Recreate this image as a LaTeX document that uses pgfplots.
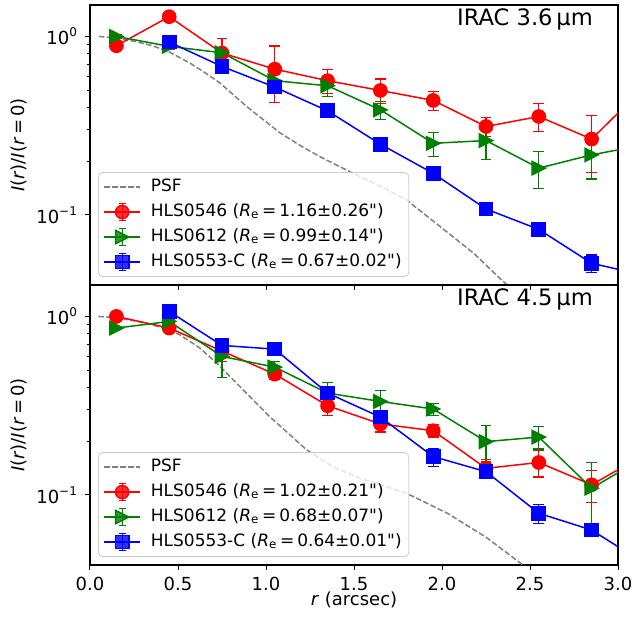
\documentclass[border=0pt]{standalone}
\usepackage{fontspec}
\setmainfont{DejaVu Sans}[Ligatures=TeXOff]
\usepackage{pgfplots}
\pgfplotsset{compat=1.18}
\usetikzlibrary{calc}
\definecolor{mred}{HTML}{FF0000}
\definecolor{mgreen}{HTML}{008000}
\definecolor{mblue}{HTML}{0000FF}
\definecolor{mgray}{HTML}{808080}
\pgfdeclareplotmark{rtri}{%
  \pgfpathmoveto{\pgfqpoint{\pgfplotmarksize}{0pt}}%
  \pgfpathlineto{\pgfqpoint{-\pgfplotmarksize}{\pgfplotmarksize}}%
  \pgfpathlineto{\pgfqpoint{-\pgfplotmarksize}{-\pgfplotmarksize}}%
  \pgfpathclose\pgfusepathqfillstroke}
\pgfplotsset{
  psf/.style={mgray, dashed, dash pattern=on 2.8pt off 1.2pt, line width=0.75pt, no marks},
  eb/.style={line width=0.75pt,
    error bars/y dir=both, error bars/y explicit,
    error bars/error bar style={line width=0.6pt},
    error bars/error mark options={line width=0.6pt, mark size=2.7pt, rotate=90}},
  sred/.style={eb, mred, mark=*, mark size=3.3pt, mark options={solid, fill=mred}},
  sgreen/.style={eb, mgreen, mark=rtri, mark size=3.3pt, mark options={solid, fill=mgreen}},
  sblue/.style={eb, mblue, mark=square*, mark size=3.3pt, mark options={solid, fill=mblue}},
  psfleg/.style={legend image code/.code={\draw[##1] (0pt,0pt) -- (18pt,0pt);}},
  ebleg/.style={legend image code/.code={%
      \draw[##1,mark=none,line width=0.6pt] (9pt,-4.2pt) -- (9pt,4.2pt) (7.3pt,-4.2pt) -- (10.7pt,-4.2pt) (7.3pt,4.2pt) -- (10.7pt,4.2pt);
      \draw[mark repeat=2,mark phase=2,##1] plot coordinates {(0pt,0pt) (9pt,0pt) (18pt,0pt)};}},
}
\begin{document}
\begin{tikzpicture}
\begin{axis}[name=top,
    width=264pt, height=140pt, scale only axis,
    xmin=0, xmax=3, ymode=log, ymin=0.0405, ymax=1.5,
    xtick={0,0.5,1,1.5,2,2.5,3}, xticklabels={},
    ytick={0.1,1}, yticklabels={10\textsuperscript{−1},10\textsuperscript{0}},
    tick align=outside, xtick pos=left, ytick pos=left,
    major tick length=2.5pt, minor tick length=1.5pt,
    tick style={black, line width=0.5pt},
    axis line style={line width=0.6pt},
    tick label style={font=\fontsize{9}{10}\selectfont},
    ylabel={\textit{I}(\textit{r})/\textit{I}(\textit{r}\,=\,0)},
    ylabel style={font=\fontsize{9}{10}\selectfont, at={(axis description cs:-0.135,0.5)}, anchor=center},
    legend style={at={(axis description cs:0.0152,0.0286)}, anchor=south west,
      draw=black!20, rounded corners=2pt, fill=white, fill opacity=0.8, text opacity=1,
      font=\fontsize{8.5}{10}\selectfont,
      nodes={text height=6.5pt, text depth=2pt, inner sep=1pt}, row sep=2pt,
      /tikz/every odd column/.append style={column sep=4pt},
      inner xsep=2.5pt, inner ysep=2pt},
    legend cell align=left]
\addplot[psf, psfleg] coordinates {(0.05,1.0) (0.15,0.98) (0.256,0.937) (0.35,0.89) (0.445,0.824) (0.568,0.709) (0.65,0.63) (0.739,0.548) (0.89,0.405) (1.08,0.288) (1.2,0.243) (1.307,0.212) (1.42,0.186) (1.534,0.164) (1.65,0.145) (1.8,0.121) (1.99,0.086) (2.18,0.061) (2.33,0.044) (2.5,0.031)};
\addlegendentry{PSF}
\addplot[sred, ebleg] coordinates {
 (0.15,0.887) +- (0,0.02)
 (0.45,1.29) +- (0,0.03)
 (0.75,0.807) +- (0,0.17)
 (1.05,0.656) +- (0,0.228)
 (1.35,0.565) +- (0,0.085)
 (1.65,0.498) +- (0,0.079)
 (1.95,0.438) +- (0,0.054)
 (2.25,0.313) +- (0,0.038)
 (2.55,0.356) +- (0,0.063)
 (2.85,0.266) +- (0,0.093)
 (3.15,0.52) +- (0,0.1)};
\addlegendentry{HLS0546 (\textit{R}\textsubscript{e}\,=\,1.16±0.26")}
\addplot[sgreen, ebleg] coordinates {
 (0.15,1.0) +- (0,0.02)
 (0.45,0.88) +- (0,0.03)
 (0.75,0.81) +- (0,0.05)
 (1.05,0.565) +- (0,0.05)
 (1.35,0.529) +- (0,0.07)
 (1.65,0.388) +- (0,0.044)
 (1.95,0.252) +- (0,0.039)
 (2.25,0.261) +- (0,0.057)
 (2.55,0.183) +- (0,0.043)
 (2.85,0.217) +- (0,0.058)
 (3.15,0.247) +- (0,0.05)};
\addlegendentry{HLS0612 (\textit{R}\textsubscript{e}\,=\,0.99±0.14")}
\addplot[sblue, ebleg] coordinates {
 (0.45,0.93) +- (0,0.01)
 (0.75,0.679) +- (0,0.01)
 (1.05,0.52) +- (0,0.01)
 (1.35,0.383) +- (0,0.008)
 (1.65,0.249) +- (0,0.007)
 (1.95,0.171) +- (0,0.006)
 (2.25,0.108) +- (0,0.008)
 (2.55,0.083) +- (0,0.007)
 (2.85,0.0536) +- (0,0.006)
 (3.15,0.0459) +- (0,0.005)};
\addlegendentry{HLS0553-C (\textit{R}\textsubscript{e}\,=\,0.67±0.02")}
\node[anchor=north east, inner sep=0pt, font=\fontsize{11.3}{12}\selectfont] at (rel axis cs:0.953,0.9875) {IRAC 3.6\,μm};
\end{axis}
\begin{axis}[name=bot, at={(top.south west)}, anchor=north west,
    width=264pt, height=140pt, scale only axis,
    xmin=0, xmax=3, ymode=log, ymin=0.0405, ymax=1.5,
    xtick={0,0.5,1,1.5,2,2.5,3}, xticklabels={0.0,0.5,1.0,1.5,2.0,2.5,3.0},
    ytick={0.1,1}, yticklabels={10\textsuperscript{−1},10\textsuperscript{0}},
    tick align=outside, xtick pos=left, ytick pos=left,
    major tick length=2.5pt, minor tick length=1.5pt,
    tick style={black, line width=0.5pt},
    axis line style={line width=0.6pt},
    tick label style={font=\fontsize{9}{10}\selectfont},
    ylabel={\textit{I}(\textit{r})/\textit{I}(\textit{r}\,=\,0)},
    ylabel style={font=\fontsize{9}{10}\selectfont, at={(axis description cs:-0.135,0.5)}, anchor=center},
    xlabel={\textit{r} (arcsec)},
    xlabel style={font=\fontsize{9}{10}\selectfont, at={(axis description cs:0.5,-0.124)}, anchor=center},
    legend style={at={(axis description cs:0.0152,0.0286)}, anchor=south west,
      draw=black!20, rounded corners=2pt, fill=white, fill opacity=0.8, text opacity=1,
      font=\fontsize{8.5}{10}\selectfont,
      nodes={text height=6.5pt, text depth=2pt, inner sep=1pt}, row sep=2pt,
      /tikz/every odd column/.append style={column sep=4pt},
      inner xsep=2.5pt, inner ysep=2pt},
    legend cell align=left]
\addplot[psf, psfleg] coordinates {(0.047,1.0) (0.15,0.985) (0.32,0.918) (0.42,0.86) (0.51,0.79) (0.62,0.67) (0.72,0.548) (0.87,0.388) (1.02,0.275) (1.13,0.22) (1.23,0.179) (1.38,0.144) (1.534,0.124) (1.65,0.114) (1.8,0.102) (2.03,0.079) (2.25,0.058) (2.46,0.0405) (2.6,0.032)};
\addlegendentry{PSF}
\addplot[sred, ebleg] coordinates {
 (0.15,1.0) +- (0,0.02)
 (0.45,0.861) +- (0,0.03)
 (0.75,0.64) +- (0,0.08)
 (1.05,0.475) +- (0,0.03)
 (1.35,0.316) +- (0,0.037)
 (1.65,0.25) +- (0,0.025)
 (1.95,0.229) +- (0,0.018)
 (2.25,0.141) +- (0,0.017)
 (2.55,0.152) +- (0,0.026)
 (2.85,0.114) +- (0,0.023)
 (3.15,0.168) +- (0,0.03)};
\addlegendentry{HLS0546 (\textit{R}\textsubscript{e}\,=\,1.02±0.21")}
\addplot[sgreen, ebleg] coordinates {
 (0.15,0.861) +- (0,0.02)
 (0.45,0.937) +- (0,0.03)
 (0.75,0.597) +- (0,0.14)
 (1.05,0.52) +- (0,0.04)
 (1.35,0.372) +- (0,0.056)
 (1.65,0.334) +- (0,0.05)
 (1.95,0.303) +- (0,0.023)
 (2.25,0.199) +- (0,0.046)
 (2.55,0.211) +- (0,0.03)
 (2.85,0.109) +- (0,0.043)
 (3.15,0.163) +- (0,0.03)};
\addlegendentry{HLS0612 (\textit{R}\textsubscript{e}\,=\,0.68±0.07")}
\addplot[sblue, ebleg] coordinates {
 (0.45,1.067) +- (0,0.01)
 (0.75,0.688) +- (0,0.01)
 (1.05,0.656) +- (0,0.01)
 (1.35,0.372) +- (0,0.01)
 (1.65,0.273) +- (0,0.01)
 (1.95,0.164) +- (0,0.019)
 (2.25,0.135) +- (0,0.01)
 (2.55,0.079) +- (0,0.0095)
 (2.85,0.0636) +- (0,0.005)
 (3.15,0.0414) +- (0,0.005)};
\addlegendentry{HLS0553-C (\textit{R}\textsubscript{e}\,=\,0.64±0.01")}
\node[anchor=north east, inner sep=0pt, font=\fontsize{11.3}{12}\selectfont] at (rel axis cs:0.953,0.9875) {IRAC 4.5\,μm};
\end{axis}
\pgfresetboundingbox
\path ($(top.north west)+(-45pt,2.5pt)$) rectangle ($(bot.south east)+(8pt,-27pt)$);
\end{tikzpicture}
\end{document}
